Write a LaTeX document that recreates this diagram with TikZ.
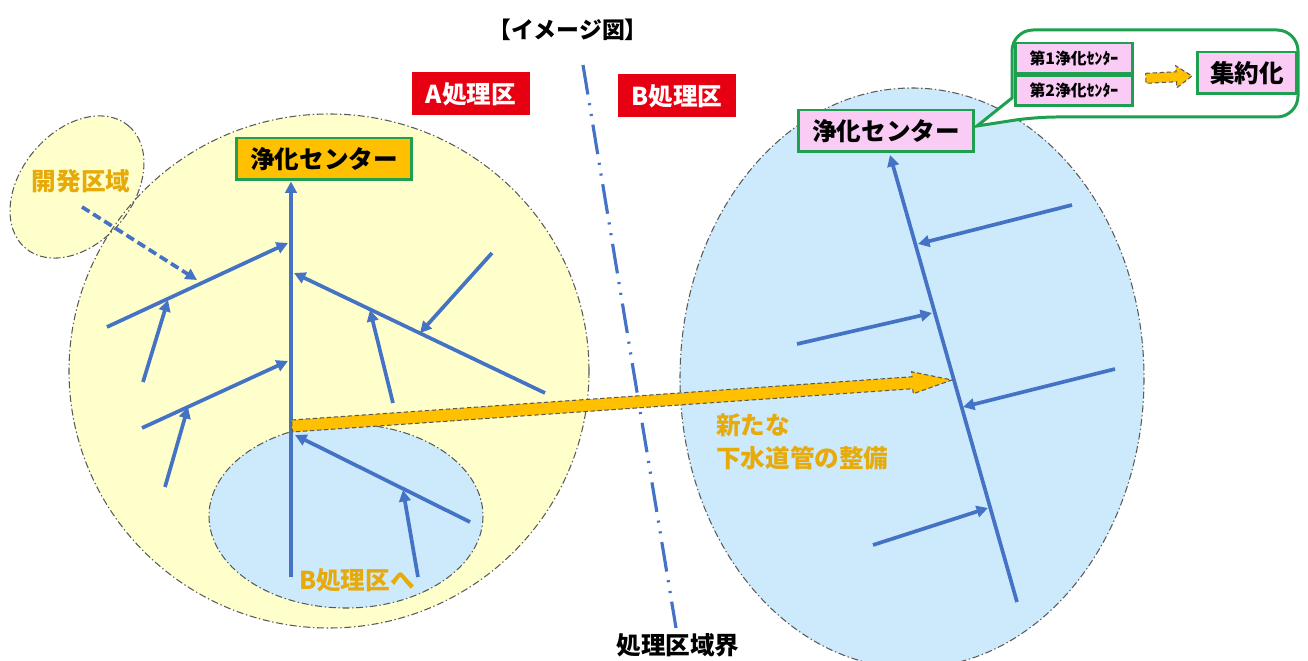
\documentclass[tikz,border=0pt]{standalone}
\usepackage{fontspec}
\setmainfont{Noto Sans CJK JP}
\usepackage{xcolor}
\usepackage{tikz}
\usetikzlibrary{arrows, arrows.meta}
\usetikzlibrary{positioning}
\usetikzlibrary{calc}

\definecolor{pipeblue}{RGB}{68,114,196}
\definecolor{areayellow}{RGB}{255,255,204}
\definecolor{areablue}{RGB}{204,234,252}
\definecolor{boxred}{RGB}{230,0,18}
\definecolor{boxgreen}{RGB}{30,160,80}
\definecolor{boxorange}{RGB}{255,192,0}
\definecolor{boxpink}{RGB}{250,204,245}
\definecolor{labelorange}{RGB}{230,170,10}
\definecolor{rimgray}{RGB}{90,90,90}

\tikzset{
	zone/.style={draw=rimgray, line width=0.6pt, dash pattern=on 4pt off 1.5pt on 0.8pt off 1.5pt},
	pipe/.style={draw=pipeblue, line width=2.1pt, -{Triangle[length=6.5pt,width=6.5pt]}},
	redbox/.style={fill=boxred, text=white, font=\bfseries\fontsize{14}{16}\selectfont, minimum width=2.37cm, minimum height=0.86cm, inner sep=0},
	centerbox/.style={draw=boxgreen, line width=1.7pt, font=\bfseries\fontsize{14}{16}\selectfont, minimum width=3.5cm, minimum height=0.84cm, inner sep=0},
	smallbox/.style={draw=boxgreen, fill=boxpink, line width=1.5pt, font=\bfseries\fontsize{9}{10}\selectfont, minimum width=2.34cm, minimum height=0.6cm, inner sep=0},
	orangetext/.style={text=labelorange, font=\bfseries\fontsize{14}{19}\selectfont},
	bigarrow/.style={fill=boxorange, draw=rimgray, line width=0.6pt, dash pattern=on 2.5pt off 1.5pt}
}

\begin{document}
\begin{tikzpicture}[x=0.02cm, y=-0.02cm]
	\newcommand\fatArrow[5]{%
		\coordinate (fatH) at ($(#2)!#3!(#1)$);
		\draw[bigarrow] ($(#1)!#4!90:(#2)$) -- ($(fatH)!#4!90:(#2)$) -- ($(fatH)!#5!90:(#2)$) -- (#2)
			-- ($(fatH)!#5!-90:(#2)$) -- ($(fatH)!#4!-90:(#2)$) -- ($(#1)!#4!-90:(#2)$) -- cycle;
	}
	\useasboundingbox (0,0) rectangle (1308,661);
	\fill[white] (0,0) rectangle (1308,661);

	% service areas
	\fill[areayellow, rotate around={50:(77,187)}] (77,187) ellipse [x radius=80, y radius=56];
	\fill[areayellow] (329,371) ellipse [x radius=260, y radius=257];
	\draw[zone, rotate around={50:(77,187)}] (77,187) ellipse [x radius=80, y radius=56];
	\draw[zone] (329,371) ellipse [x radius=260, y radius=257];
	\draw[zone, fill=areablue] (346,516) ellipse [x radius=137, y radius=92];
	\draw[zone, fill=areablue] (912,378) ellipse [x radius=232, y radius=290];

	% boundary line
	\coordinate (lineTop) at (583,65);
	\coordinate (lineBot) at (676,628);
	\draw[pipeblue, line width=1.8pt, dash pattern=on 17pt off 5pt on 1.2pt off 5pt on 1.2pt off 5pt] (lineTop) -- (lineBot);

	% labels
	\node[font=\bfseries\fontsize{13}{15}\selectfont] (title) at (568,30) {【イメージ図】};
	\node[redbox] (areaA) at (471,94) {A処理区};
	\node[redbox] (areaB) at (677,96) {B処理区};
	\node[centerbox, fill=boxorange] (centerA) at (324,159) {浄化センター};
	\node[centerbox, fill=boxpink] (centerB) at (886,131) {浄化センター};
	\node[orangetext] (devArea) at (81,181) {開発区域};
	\node[orangetext] (toB) at (357,580) {B処理区へ};
	\node[orangetext, align=left, anchor=west] (newPipe) at (710,442) {新たな\\下水道管の整備};
	\node[font=\bfseries\fontsize{14}{16}\selectfont] (border) at (678,645) {処理区域界};

	% A area pipes
	\coordinate (aRoot) at (291,577);
	\draw[pipe] (aRoot) -- (aRoot |- centerA.south);
	\draw[pipe] (107,327) -- (288,243);
	\draw[pipe] (143,382) -- (168,300);
	\draw[pipe, dash pattern=on 5pt off 2.5pt] (devArea.south) ++(1,8) coordinate (devS) -- (197,280);
	\draw[pipe] (142,428) -- (288,361);
	\draw[pipe] (165,487) -- (188,407);
	\draw[pipe] (545,393) -- (294,273);
	\draw[pipe] (393,403) -- (370,310);
	\draw[pipe] (492,253) -- (420,333);
	\draw[pipe] (470,522) -- (295,435);
	\draw[pipe] (418,577) -- (403,490);

	% B area pipes
	\coordinate (bRoot) at (1017,602);
	\coordinate (bTop) at (890,155);
	\draw[pipe] (bRoot) -- (bTop);
	\draw[pipe] (1072,205) -- (918,244);
	\draw[pipe] (797,344) -- (932,313);
	\draw[pipe] (1115,369) -- (963,407);
	\draw[pipe] (873,545) -- (988,508);

	% new pipe
	\coordinate (newS) at (292,426);
	\coordinate (newT) at (952,380);
	\fatArrow{newS}{newT}{0.06}{0.12cm}{0.22cm}

	% callout
	\draw[boxgreen, line width=1.7pt, fill=white] (977,126) -- (1012,98) [rounded corners=12] -- (1012,30) -- (1298,30) -- (1298,117) -- (1035,117) [sharp corners] -- cycle;
	\node[smallbox] (centerOne) at (1074,58) {第1浄化ｾﾝﾀｰ};
	\node[smallbox, below=0pt of centerOne] (centerTwo) {第2浄化ｾﾝﾀｰ};
	\node[centerbox, fill=boxpink, minimum width=1.98cm, minimum height=0.84cm] (merged) at (1247,73) {集約化};
	\coordinate (mergeS) at ($(centerOne.south east)+(12,4)$);
	\coordinate (mergeT) at ($(merged.west)+(-4,3)$);
	\fatArrow{mergeS}{mergeT}{0.34}{0.1cm}{0.22cm}
\end{tikzpicture}
\end{document}
